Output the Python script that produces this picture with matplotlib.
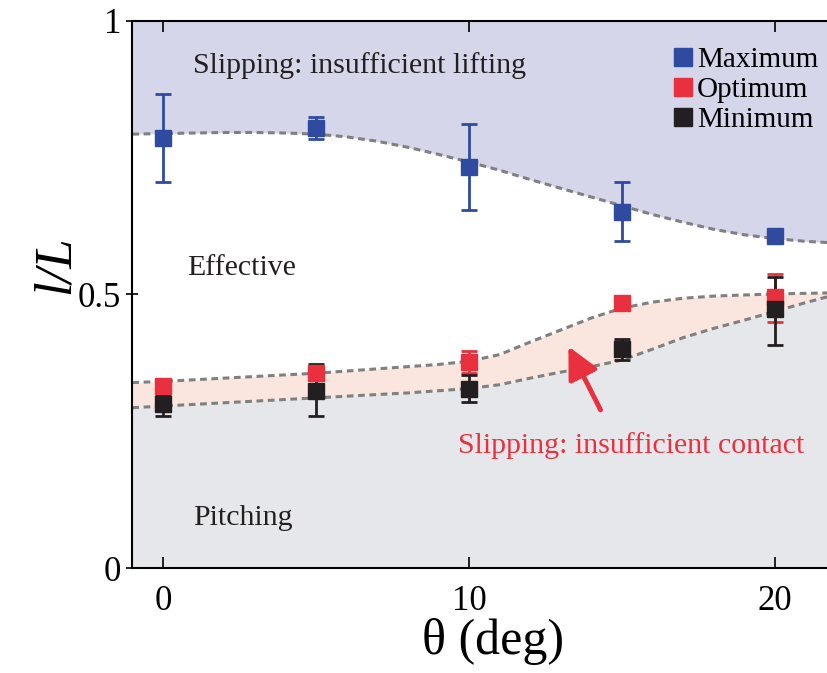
import matplotlib
matplotlib.use("Agg")
import matplotlib.pyplot as plt
from matplotlib.lines import Line2D

plt.rcParams["font.family"] = ["Liberation Serif", "DejaVu Serif"]

# measured points (theta in deg, l/L)
theta = [0, 5, 10, 15, 20]
max_val = [0.786, 0.804, 0.733, 0.650, 0.606]
max_lo = [0.705, 0.784, 0.654, 0.597, 0.600]
max_hi = [0.866, 0.824, 0.811, 0.705, 0.612]
opt_val = [0.333, 0.357, 0.376, 0.485, 0.496]
opt_lo = [0.325, 0.350, 0.357, 0.478, 0.449]
opt_hi = [0.340, 0.364, 0.396, 0.492, 0.538]
min_val = [0.299, 0.323, 0.328, 0.401, 0.473]
min_lo = [0.278, 0.277, 0.304, 0.381, 0.408]
min_hi = [0.317, 0.372, 0.352, 0.419, 0.531]

# regime boundaries
curve_x = [-1, 0, 1, 2, 3, 4, 5, 6, 7, 8, 9, 10, 11, 12, 13, 14, 15, 16, 17, 18, 19, 20, 21, 22]
lift_edge = [0.793, 0.794, 0.795, 0.796, 0.796, 0.795, 0.793, 0.788, 0.780, 0.769, 0.756, 0.742,
             0.727, 0.710, 0.694, 0.678, 0.662, 0.646, 0.632, 0.619, 0.609, 0.602, 0.597, 0.594]
contact_top = [0.339, 0.341, 0.344, 0.347, 0.350, 0.353, 0.356, 0.360, 0.364, 0.368, 0.372, 0.378,
               0.390, 0.413, 0.435, 0.457, 0.475, 0.486, 0.493, 0.497, 0.499, 0.501, 0.502, 0.503]
contact_bot = [0.293, 0.296, 0.299, 0.302, 0.305, 0.308, 0.311, 0.314, 0.317, 0.320, 0.324, 0.328,
               0.335, 0.347, 0.358, 0.368, 0.380, 0.400, 0.421, 0.438, 0.453, 0.469, 0.485, 0.500]

BLUE = "#2f4ba0"
RED = "#e8303f"
BLACK = "#231f20"


def err(val, lo, hi):
    return [[v - l for v, l in zip(val, lo)], [h - v for v, h in zip(val, hi)]]


fig = plt.figure(figsize=(8.27, 6.73), dpi=100)
ax = fig.add_axes([0.16, 0.156, 0.84, 0.813])

ax.fill_between(curve_x, lift_edge, 1, color="#d5d6ea", lw=0)
ax.fill_between(curve_x, contact_bot, contact_top, color="#fbe6df", lw=0)
ax.fill_between(curve_x, 0, contact_bot, color="#e6e7ea", lw=0)
for c in (lift_edge, contact_top, contact_bot):
    ax.plot(curve_x, c, color="#808080", lw=2.2, dashes=(2.2, 1.5))

style = dict(fmt="s", markersize=12, elinewidth=2, capsize=6, capthick=2, zorder=3)
ax.errorbar(theta, max_val, yerr=err(max_val, max_lo, max_hi), color=BLUE, **style)
ax.errorbar(theta, opt_val, yerr=err(opt_val, opt_lo, opt_hi), color=RED, **style)
ax.errorbar(theta, min_val, yerr=err(min_val, min_lo, min_hi), color=BLACK, **style)

txt = dict(fontsize=21.5, color=BLACK, va="center", ha="left")
ax.text(0.98, 0.918, "Slipping: insufficient lifting", **txt)
ax.text(0.78, 0.548, "Effective", **txt)
ax.text(0.98, 0.092, "Pitching", **txt)
ax.text(9.64, 0.224, "Slipping: insufficient contact", fontsize=21.5, color=RED, va="center", ha="left")
ax.annotate("", xy=(13.25, 0.405), xytext=(14.3, 0.289),
            arrowprops=dict(arrowstyle="-|>", color=RED, lw=3.5, mutation_scale=48, shrinkA=0, shrinkB=0))

handles = [Line2D([], [], ls="", marker="s", markersize=13, color=c) for c in (BLUE, RED, BLACK)]
ax.legend(handles, ["Maximum", "Optimum", "Minimum"], loc="upper right", frameon=False,
          fontsize=21, handletextpad=0.05, handlelength=0.9, labelspacing=0.12,
          borderaxespad=0.3, bbox_to_anchor=(1.017, 0.99))

ax.set_xlim(-1, 21.7)
ax.set_ylim(0, 1)
ax.set_xticks([0, 10, 20])
ax.set_yticks([0, 0.5, 1])
ax.set_yticklabels(["0", "0.5", "1"])
ax.tick_params(axis="x", direction="in", length=8, width=1.2, labelsize=25, pad=12, top=True)
ax.tick_params(axis="y", direction="inout", length=8, width=1.2, labelsize=25, pad=4)
ax.spines["right"].set_visible(False)
for s in ("left", "bottom", "top"):
    ax.spines[s].set_linewidth(1.5)

ax.set_xlabel("θ (deg)", fontsize=36)
ax.xaxis.set_label_coords(0.52, -0.135)
ax.xaxis.label.set_va("center")
ax.set_ylabel("l/L", fontsize=38, style="italic")
ax.yaxis.set_label_coords(-0.111, 0.555)
ax.yaxis.label.set_va("center")

fig.savefig("out.png", dpi=100)
